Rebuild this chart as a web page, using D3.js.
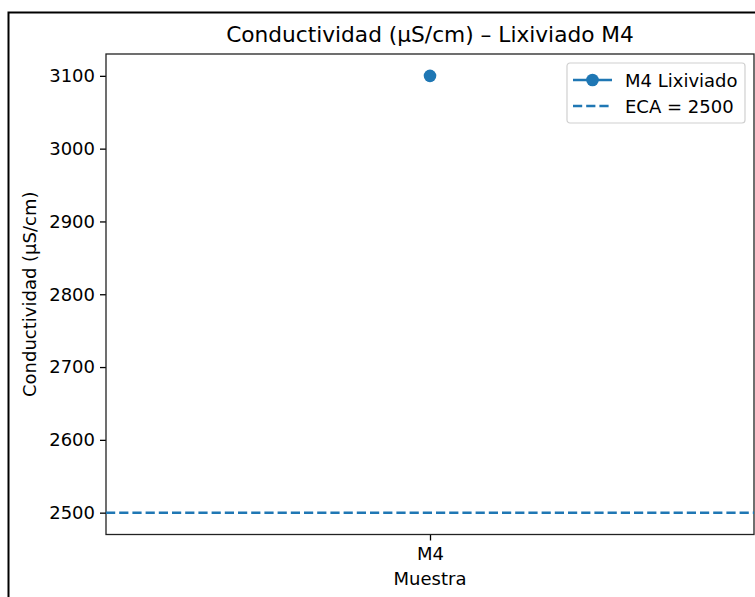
<!DOCTYPE html>
<html>
<head>
<meta charset="utf-8">
<script src="https://cdn.jsdelivr.net/npm/d3@7"></script>
<style>
  html, body { margin: 0; padding: 0; background: #fff; }
  svg text { font-family: "DejaVu Sans", sans-serif; fill: #000; }
</style>
</head>
<body>
<svg id="chart" width="755" height="597"></svg>
<script>
  // data
  var categories = ['M4'];
  var seriesValues = [3100];
  var seriesName = 'M4 Lixiviado';
  var limitValue = 2500;
  var limitName = 'ECA = 2500';
  var yTicks = [2500, 2600, 2700, 2800, 2900, 3000, 3100];

  (function () {
    var blue = '#1f77b4',
      ink = '#262626',
      svg = d3.select('#chart'),
      fs = 18,
      mLeft = 106,
      mRight = 754,
      mTop = 54,
      mBottom = 534.5;

    // outer frame (cut off by the right and bottom edges)
    svg.append('rect')
      .attr('x', 8.5).attr('y', 12.5)
      .attr('width', 800).attr('height', 700)
      .attr('fill', 'none').attr('stroke', '#000').attr('stroke-width', 2);

    var x = d3.scalePoint().domain(categories).range([mLeft, mRight]).padding(0.5);
    var yMin = Math.min(limitValue, d3.min(seriesValues)),
      yMax = Math.max(limitValue, d3.max(seriesValues)),
      pad = (yMax - yMin) * 0.05;
    var y = d3.scaleLinear().domain([yMin - pad, yMax + pad]).range([mBottom, mTop]);

    // axes
    var yAxis = svg.append('g')
      .attr('transform', 'translate(' + mLeft + ',0)')
      .call(d3.axisLeft(y).tickValues(yTicks).tickSize(6).tickPadding(5).tickFormat(d3.format('d')));
    var xAxis = svg.append('g')
      .attr('transform', 'translate(0,' + mBottom + ')')
      .call(d3.axisBottom(x).tickSize(6).tickPadding(7));

    [yAxis, xAxis].forEach(function (g) {
      g.select('.domain').remove();
      g.selectAll('line').attr('stroke', '#000').attr('stroke-width', 1.3);
      g.selectAll('text').attr('font-size', fs).attr('fill', ink);
    });

    // spines
    svg.append('rect')
      .attr('x', mLeft).attr('y', mTop)
      .attr('width', mRight - mLeft).attr('height', mBottom - mTop)
      .attr('fill', 'none').attr('stroke', '#222').attr('stroke-width', 1.3);

    // limit line
    svg.append('line')
      .attr('x1', mLeft).attr('x2', mRight)
      .attr('y1', y(limitValue)).attr('y2', y(limitValue))
      .attr('stroke', blue).attr('stroke-width', 2.5)
      .attr('stroke-dasharray', '9.2,4');

    // series
    svg.selectAll('circle.pt')
      .data(seriesValues)
      .enter().append('circle')
      .attr('class', 'pt')
      .attr('cx', function (d, i) { return x(categories[i]); })
      .attr('cy', function (d) { return y(d); })
      .attr('r', 6.3)
      .attr('fill', blue);

    // labels
    svg.append('text')
      .attr('x', (mLeft + mRight) / 2).attr('y', 42)
      .attr('text-anchor', 'middle').attr('font-size', 21.7).attr('fill', ink)
      .text('Conductividad (\u00b5S/cm) \u2013 Lixiviado M4');

    svg.append('text')
      .attr('x', (mLeft + mRight) / 2).attr('y', 585)
      .attr('text-anchor', 'middle').attr('font-size', fs).attr('fill', ink)
      .text('Muestra');

    svg.append('text')
      .attr('transform', 'translate(36,' + (mTop + mBottom) / 2 + ') rotate(-90)')
      .attr('text-anchor', 'middle').attr('font-size', fs).attr('fill', ink)
      .text('Conductividad (\u00b5S/cm)');

    // legend
    var lg = svg.append('g').attr('transform', 'translate(567,63)');
    lg.append('rect')
      .attr('width', 178).attr('height', 60).attr('rx', 3)
      .attr('fill', '#fff').attr('fill-opacity', 0.8)
      .attr('stroke', '#d0d0d0').attr('stroke-width', 1.2);
    lg.append('line')
      .attr('x1', 6).attr('x2', 45).attr('y1', 17).attr('y2', 17)
      .attr('stroke', blue).attr('stroke-width', 2.5);
    lg.append('circle').attr('cx', 25.5).attr('cy', 17).attr('r', 6.3).attr('fill', blue);
    lg.append('line')
      .attr('x1', 6).attr('x2', 45).attr('y1', 43).attr('y2', 43)
      .attr('stroke', blue).attr('stroke-width', 2.5)
      .attr('stroke-dasharray', '9.2,4');
    lg.append('text').attr('x', 58).attr('y', 23.5).attr('font-size', fs).attr('fill', ink).text(seriesName);
    lg.append('text').attr('x', 58).attr('y', 49.5).attr('font-size', fs).attr('fill', ink).text(limitName);
  })();
</script>
</body>
</html>
